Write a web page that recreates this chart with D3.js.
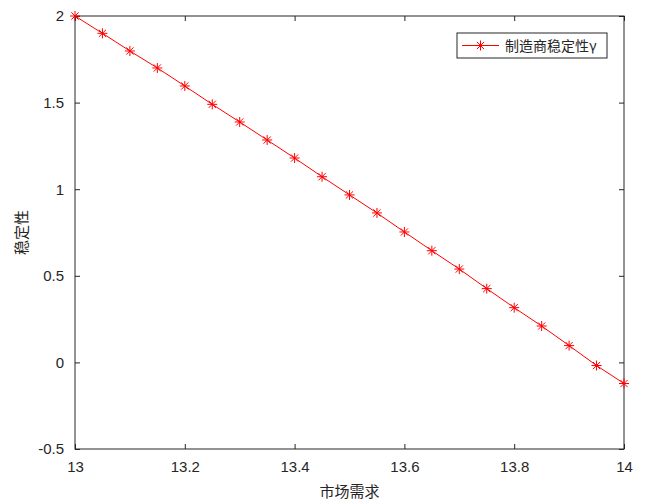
<!DOCTYPE html>
<html lang="zh">
<head>
<meta charset="UTF-8">
<title>稳定性</title>
<script src="https://d3js.org/d3.v7.min.js"></script>
<style>
  body { margin: 0; background: #fff; }
  .cjk { font-family: "Noto Sans CJK SC", sans-serif; }
</style>
</head>
<body>
<svg id="chart" width="648" height="503"></svg>
<script>
// market demand (x) and manufacturer stability (y)
const demand = [13, 13.05, 13.1, 13.15, 13.2, 13.25, 13.3, 13.35, 13.4, 13.45, 13.5,
                13.55, 13.6, 13.65, 13.7, 13.75, 13.8, 13.85, 13.9, 13.95, 14];
const stability = [2, 1.9, 1.798, 1.7, 1.596, 1.49, 1.388, 1.284, 1.18, 1.072, 0.967,
                   0.863, 0.753, 0.645, 0.539, 0.426, 0.316, 0.21, 0.097, -0.018, -0.122];
const xTicks = [13, 13.2, 13.4, 13.6, 13.8, 14];
const yTicks = [-0.5, 0, 0.5, 1, 1.5, 2];
const seriesName = "制造商稳定性γ";

const plotL = 75, plotR = 624, plotT = 16, plotB = 449;
const axisColor = "#262626";
const red = "#ff0000";

const svg = d3.select("#chart");

const x = d3.scaleLinear().domain([13, 14]).range([plotL, plotR]);
const y = d3.scaleLinear().domain([-0.5, 2]).range([plotB, plotT]);

const fmt = d => String(d);

// axes: ticks inward on all four sides
function styleAxis(g) {
  g.select(".domain").remove();
  g.selectAll(".tick line").attr("stroke", axisColor);
  g.selectAll(".tick text")
    .attr("fill", axisColor)
    .attr("font-family", "'Liberation Sans', Arial, sans-serif")
    .attr("font-size", 15);
}
svg.append("g").attr("transform", `translate(0,${plotB})`)
  .call(d3.axisBottom(x).tickValues(xTicks).tickSizeInner(-5).tickSizeOuter(0).tickPadding(12).tickFormat(fmt))
  .call(styleAxis);
svg.append("g").attr("transform", `translate(0,${plotT})`)
  .call(d3.axisTop(x).tickValues(xTicks).tickSizeInner(-5).tickSizeOuter(0).tickFormat(""))
  .call(styleAxis);
svg.append("g").attr("transform", `translate(${plotL},0)`)
  .call(d3.axisLeft(y).tickValues(yTicks).tickSizeInner(-5).tickSizeOuter(0).tickPadding(11).tickFormat(fmt))
  .call(styleAxis);
svg.append("g").attr("transform", `translate(${plotR},0)`)
  .call(d3.axisRight(y).tickValues(yTicks).tickSizeInner(-5).tickSizeOuter(0).tickFormat(""))
  .call(styleAxis);

// box
svg.append("rect")
  .attr("x", plotL).attr("y", plotT)
  .attr("width", plotR - plotL).attr("height", plotB - plotT)
  .attr("fill", "none").attr("stroke", axisColor).attr("stroke-width", 1);

// line
const pts = demand.map((d, i) => [d, stability[i]]);
svg.append("path")
  .datum(pts)
  .attr("fill", "none")
  .attr("stroke", red)
  .attr("stroke-width", 1)
  .attr("d", d3.line().x(d => x(d[0])).y(d => y(d[1])));

// star markers (plus + cross)
function star(g, cx, cy, r) {
  const s = r * 0.72;
  g.append("path")
    .attr("d", `M${cx - r},${cy}H${cx + r}M${cx},${cy - r}V${cy + r}M${cx - s},${cy - s}L${cx + s},${cy + s}M${cx - s},${cy + s}L${cx + s},${cy - s}`)
    .attr("stroke", red).attr("stroke-width", 1).attr("fill", "none");
}
const markers = svg.append("g");
pts.forEach(d => star(markers, x(d[0]), y(d[1]), 5));

// axis labels
svg.append("text").attr("class", "cjk")
  .attr("x", (plotL + plotR) / 2).attr("y", 497)
  .attr("text-anchor", "middle").attr("font-size", 15).attr("fill", axisColor)
  .text("市场需求");
svg.append("text").attr("class", "cjk")
  .attr("transform", `translate(27,${(plotT + plotB) / 2}) rotate(-90)`)
  .attr("text-anchor", "middle").attr("font-size", 15).attr("fill", axisColor)
  .text("稳定性");

// legend
const lg = svg.append("g");
lg.append("rect").attr("x", 457).attr("y", 33).attr("width", 150).attr("height", 25)
  .attr("fill", "#fff").attr("stroke", axisColor).attr("stroke-width", 1);
lg.append("line").attr("x1", 462).attr("x2", 499).attr("y1", 45.5).attr("y2", 45.5)
  .attr("stroke", red).attr("stroke-width", 1);
star(lg, 480.5, 45.5, 5);
lg.append("text").attr("class", "cjk")
  .attr("x", 505).attr("y", 50.5).attr("font-size", 14).attr("fill", axisColor)
  .text(seriesName);
</script>
</body>
</html>
